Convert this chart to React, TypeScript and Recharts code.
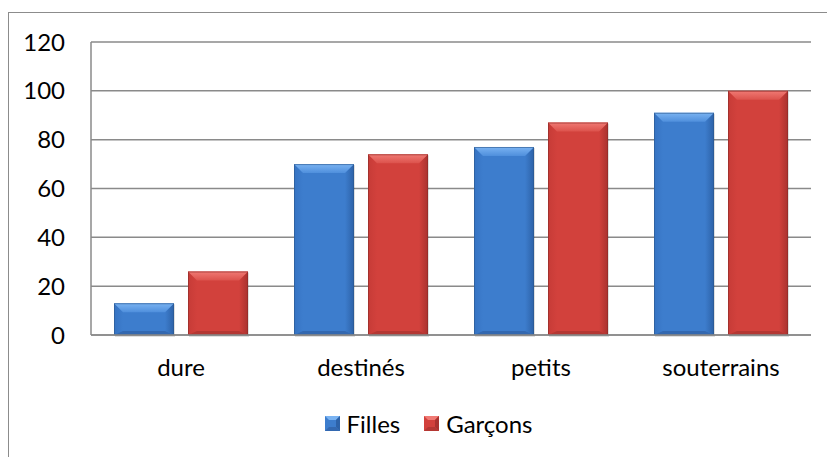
import React from 'react';
import { BarChart, Bar, XAxis, YAxis, CartesianGrid, Legend } from 'recharts';

const categories = ['dure', 'destinés', 'petits', 'souterrains'];
const filles = [13, 70, 77, 91];
const garcons = [26, 74, 87, 100];
const yTicks = [0, 20, 40, 60, 80, 100, 120];

const data = categories.map((name, i) => ({ name, Filles: filles[i], Garçons: garcons[i] }));

const FONT = 'Lato, "Open Sans", sans-serif';
const FONT_SIZE = 24;

type Palette = { base: string; top: string; topEdge: string; left: string; right: string; bottom: string; edge: string };

const BLUE: Palette = {
  base: '#3d7dcd',
  top: '#4f8fdc',
  topEdge: '#7ab3f2',
  left: '#3673c2',
  right: '#2d62a8',
  bottom: '#3368b0',
  edge: '#2b568c',
};
const RED: Palette = {
  base: '#d2413c',
  top: '#dc524c',
  topEdge: '#f07a74',
  left: '#c63b37',
  right: '#a9322f',
  bottom: '#b43733',
  edge: '#8a2a27',
};

const bevelShape = (pal: Palette, id: string) => (props: any) => {
  const { x, y, width: w, height: h } = props;
  if (!w || !h || h <= 0) return <g />;
  const b = Math.min(9, w / 2, h / 2);
  const bb = Math.min(4, h / 4);
  return (
    <g>
      <defs>
        <linearGradient id={`top-${id}`} x1="0" y1="0" x2="0" y2="1">
          <stop offset="0%" stopColor={pal.topEdge} />
          <stop offset="100%" stopColor={pal.top} />
        </linearGradient>
        <linearGradient id={`right-${id}`} x1="0" y1="0" x2="1" y2="0">
          <stop offset="0%" stopColor={pal.base} />
          <stop offset="100%" stopColor={pal.right} />
        </linearGradient>
        <linearGradient id={`left-${id}`} x1="0" y1="0" x2="1" y2="0">
          <stop offset="0%" stopColor={pal.left} />
          <stop offset="100%" stopColor={pal.base} />
        </linearGradient>
      </defs>
      <rect x={x + 1} y={y + 1} width={w} height={h + 1} fill="#000" opacity={0.12} />
      <rect x={x} y={y} width={w} height={h} fill={pal.base} />
      <polygon points={`${x},${y} ${x + b},${y + b} ${x + b},${y + h - bb} ${x},${y + h}`} fill={`url(#left-${id})`} />
      <polygon points={`${x + w},${y} ${x + w - b},${y + b} ${x + w - b},${y + h - bb} ${x + w},${y + h}`} fill={`url(#right-${id})`} />
      <polygon points={`${x},${y + h} ${x + b},${y + h - bb} ${x + w - b},${y + h - bb} ${x + w},${y + h}`} fill={pal.bottom} />
      <polygon points={`${x},${y} ${x + w},${y} ${x + w - b},${y + b} ${x + b},${y + b}`} fill={`url(#top-${id})`} />
      <rect x={x + 0.5} y={y + 0.5} width={w - 1} height={h - 1} fill="none" stroke={pal.edge} strokeOpacity={0.6} strokeWidth={1} />
    </g>
  );
};

const LegendSwatch = ({ pal }: { pal: Palette }) => (
  <svg width={15} height={15} style={{ marginRight: 7 }}>
    <rect x={0} y={0} width={15} height={15} fill={pal.base} />
    <polygon points="0,0 15,0 11,4 4,4" fill={pal.topEdge} />
    <polygon points="15,0 11,4 11,11 15,15" fill={pal.right} />
    <polygon points="0,15 4,11 11,11 15,15" fill={pal.bottom} />
  </svg>
);

const renderLegend = () => (
  <div
    style={{
      display: 'flex',
      justifyContent: 'center',
      alignItems: 'center',
      fontFamily: FONT,
      fontSize: FONT_SIZE,
      color: '#000',
      paddingLeft: 30,
    }}
  >
    <div style={{ display: 'flex', alignItems: 'center', marginRight: 24 }}>
      <LegendSwatch pal={BLUE} />
      <span>Filles</span>
    </div>
    <div style={{ display: 'flex', alignItems: 'center' }}>
      <LegendSwatch pal={RED} />
      <span>Garçons</span>
    </div>
  </div>
);

export default function App() {
  return (
    <div style={{ position: 'absolute', left: 0, top: 0, width: 827, height: 457, overflow: 'hidden', background: '#fff' }}>
      <div
        style={{
          position: 'absolute',
          left: 8,
          top: 12,
          width: 900,
          height: 500,
          borderLeft: '1.5px solid #8c8c8c',
          borderTop: '1.5px solid #8c8c8c',
        }}
      />
      <div style={{ position: 'absolute', left: 0, top: 0 }}>
        <BarChart
          width={827}
          height={457}
          data={data}
          margin={{ top: 42, right: 16, bottom: 82, left: 31 }}
          barCategoryGap={23}
          barGap={14}
        >
          <CartesianGrid vertical={false} stroke="#8a8a8a" strokeWidth={1.5} />
          <XAxis
            dataKey="name"
            height={40}
            tickLine={false}
            tickSize={0}
            tickMargin={24}
            axisLine={{ stroke: '#8a8a8a', strokeWidth: 1.5 }}
            tick={{ fill: '#000', fontSize: FONT_SIZE, fontFamily: FONT }}
          />
          <YAxis
            width={60}
            domain={[0, 120]}
            ticks={yTicks}
            tickLine={false}
            tickSize={0}
            tickMargin={26}
            axisLine={{ stroke: '#8a8a8a', strokeWidth: 1.5 }}
            tick={{ fill: '#000', fontSize: FONT_SIZE, fontFamily: FONT }}
          />
          <Legend
            layout="horizontal"
            verticalAlign="middle"
            align="center"
            content={renderLegend}
            wrapperStyle={{ top: 409, left: 0, width: 827 }}
          />
          <Bar dataKey="Filles" isAnimationActive={false} shape={bevelShape(BLUE, 'f')} />
          <Bar dataKey="Garçons" isAnimationActive={false} shape={bevelShape(RED, 'g')} />
        </BarChart>
      </div>
    </div>
  );
}
